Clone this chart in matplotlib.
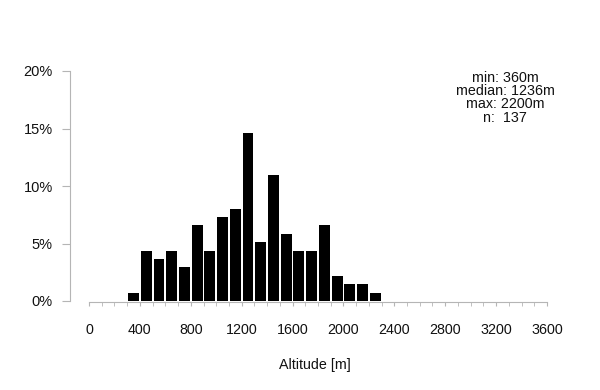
import matplotlib
matplotlib.use("Agg")
import matplotlib.pyplot as plt
from matplotlib.ticker import FixedLocator, PercentFormatter

plt.rcParams['font.family'] = ['Liberation Sans', 'DejaVu Sans']

bin_left = [300, 400, 500, 600, 700, 800, 900, 1000, 1100, 1200,
            1300, 1400, 1500, 1600, 1700, 1800, 1900, 2000, 2100, 2200]
counts = [1, 6, 5, 6, 4, 9, 6, 10, 11, 20, 7, 15, 8, 6, 6, 9, 3, 2, 2, 1]
n_total = 137
x_ticks = [0, 400, 800, 1200, 1600, 2000, 2400, 2800, 3200, 3600]
y_ticks = [0, 5, 10, 15, 20]
stats_text = "min: 360m\nmedian: 1236m\nmax: 2200m\nn:  137"

pct = [c / n_total * 100 for c in counts]

fig = plt.figure(figsize=(6, 3.9), dpi=100)
W, H = 600, 390
px_l, px_r = 70, 560
px_b, px_t = 301, 71
ax = fig.add_axes([px_l / W, 1 - px_b / H, (px_r - px_l) / W, (px_b - px_t) / H])

x0_px, x1_px = 89, 547
scale = (3600 - 0) / (x1_px - x0_px)
ax.set_xlim(0 - (x0_px - px_l) * scale, 3600 + (px_r - x1_px) * scale)
ax.set_ylim(0, 20)

centers = [b + 50 for b in bin_left]
ax.bar(centers, pct, width=86, color='black', edgecolor='none')

axis_col = '#b5b5b5'
for s in ['top', 'right']:
    ax.spines[s].set_visible(False)
ax.spines['left'].set_bounds(0, 20)
ax.spines['bottom'].set_bounds(0, 3600)
ax.spines['left'].set_color(axis_col)
ax.spines['bottom'].set_color(axis_col)
ax.spines['bottom'].set_position(('outward', 1))

ax.xaxis.set_major_locator(FixedLocator(x_ticks))
ax.xaxis.set_minor_locator(FixedLocator(list(range(0, 3700, 100))))
ax.yaxis.set_major_locator(FixedLocator(y_ticks))
ax.yaxis.set_major_formatter(PercentFormatter(decimals=0))

ax.tick_params(axis='x', which='both', length=3, color=axis_col, direction='out')
ax.tick_params(axis='x', which='major', pad=12, labelsize=10.3, labelcolor='#111111')
ax.tick_params(axis='y', length=5.5, color=axis_col, pad=7, labelsize=10.5,
               labelcolor='#111111')

ax.set_xlabel("Altitude [m]", fontsize=10.3, labelpad=15, color='#111111')

fig.text(505 / W, 1 - 71 / H, stats_text, ha='center', va='top',
         fontsize=10.3, linespacing=0.93, color='#111111')

fig.savefig("out.png", dpi=100)
